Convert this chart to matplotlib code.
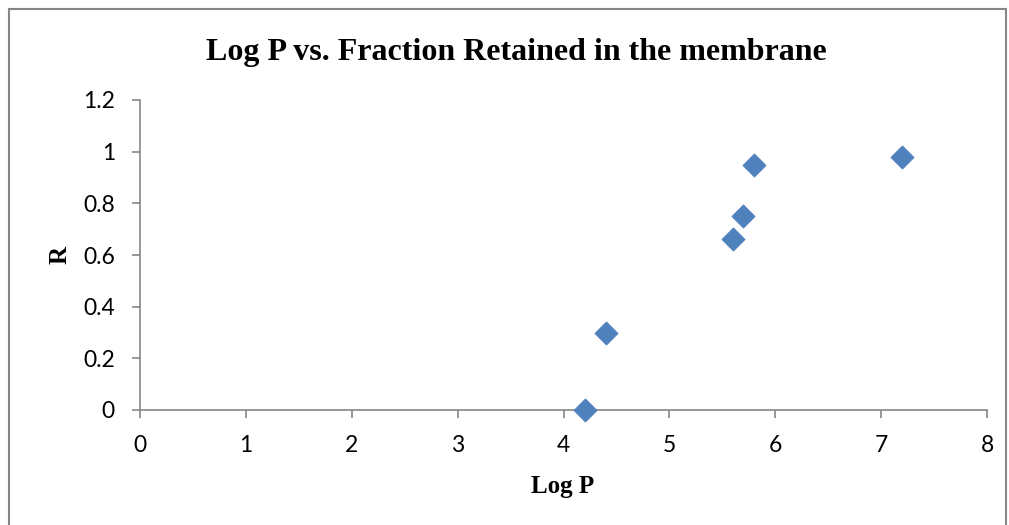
import matplotlib
matplotlib.use("Agg")
import matplotlib.pyplot as plt
from matplotlib.patches import Rectangle

log_p = [4.2, 4.4, 5.6, 5.7, 5.8, 7.2]
r_values = [0.0, 0.30, 0.66, 0.75, 0.95, 0.98]
x_ticks = [0, 1, 2, 3, 4, 5, 6, 7, 8]
y_ticks = [0, 0.2, 0.4, 0.6, 0.8, 1, 1.2]
y_tick_labels = ["0", "0.2", "0.4", "0.6", "0.8", "1", "1.2"]

W, H = 1009, 525
fig = plt.figure(figsize=(W / 100, H / 100), dpi=100)
fig.patch.set_facecolor("white")

# outer chart border
fig.patches.append(Rectangle((9 / W, -0.01), (1006 - 9) / W, (H - 9) / H + 0.01,
                             transform=fig.transFigure, fill=False,
                             edgecolor="#868686", linewidth=1.5))

ax = fig.add_axes([140 / W, (H - 410) / H, (987 - 140) / W, 310 / H])
ax.scatter(log_p, r_values, marker="D", s=140, color="#4F81BD",
           edgecolor="#4A7EBB", linewidth=0.5, zorder=3, clip_on=False)

ax.set_xlim(0, 8)
ax.set_ylim(0, 1.2)
ax.set_xticks(x_ticks)
ax.set_xticklabels([str(t) for t in x_ticks])
ax.set_yticks(y_ticks)
ax.set_yticklabels(y_tick_labels)

for s in ["top", "right"]:
    ax.spines[s].set_visible(False)
for s in ["left", "bottom"]:
    ax.spines[s].set_color("#868686")
    ax.spines[s].set_linewidth(1.2)
ax.tick_params(axis="both", direction="out", length=6, width=1.2,
               color="#868686", labelsize=16.5)
ax.tick_params(axis="x", pad=12)
ax.tick_params(axis="y", pad=12)
for lbl in ax.get_xticklabels() + ax.get_yticklabels():
    lbl.set_fontfamily("Lato")

fig.text(516 / W, 1 - 60 / H, "Log P vs. Fraction Retained in the membrane",
         fontfamily="Liberation Serif", fontweight="bold", fontsize=23,
         ha="center", va="baseline")
fig.text(563 / W, 1 - 493 / H, "Log P", fontfamily="Liberation Serif",
         fontweight="bold", fontsize=18, ha="center", va="baseline")
fig.text(60 / W, 1 - 255 / H, "R", fontfamily="Liberation Serif",
         fontweight="bold", fontsize=18, ha="center", va="center",
         rotation=90)

fig.savefig("out.png", dpi=100)
